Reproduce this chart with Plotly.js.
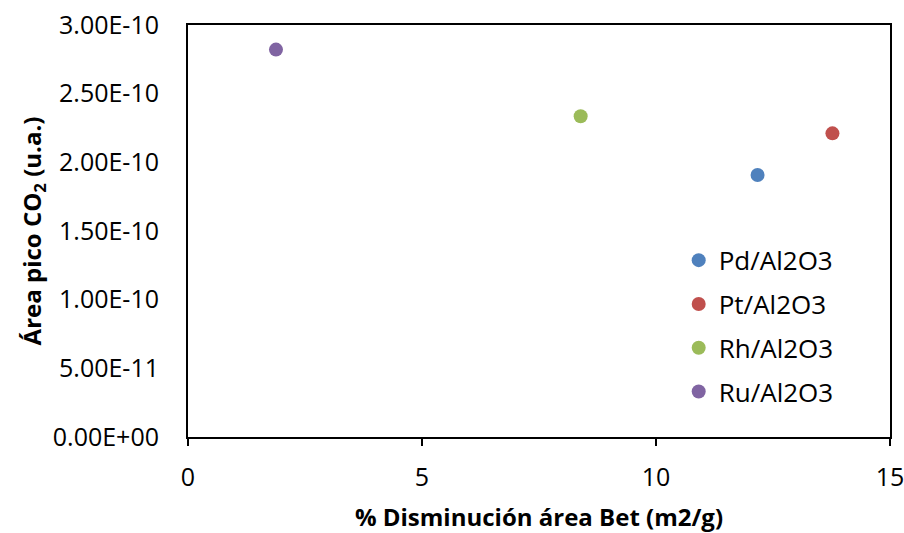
<!DOCTYPE html>
<html>
<head>
<meta charset="utf-8">
<script src="https://cdn.plot.ly/plotly-3.0.1.min.js"></script>
<style>html,body{margin:0;padding:0;background:#fff;}#chart{width:904px;height:533px;}</style>
</head>
<body>
<div id="chart"></div>
<script>
// Data
const seriesNames = ["Pd/Al2O3", "Pt/Al2O3", "Rh/Al2O3", "Ru/Al2O3"];
const xValues = [12.17, 13.77, 8.39, 1.88];          // % Disminución área Bet (m2/g)
const yValues = [1.908e-10, 2.211e-10, 2.336e-10, 2.821e-10]; // Área pico CO2 (u.a.)
const seriesColors = ["#4F81BD", "#C0504D", "#9BBB59", "#8064A2"];
const yTickVals = [0, 5e-11, 1e-10, 1.5e-10, 2e-10, 2.5e-10, 3e-10];
const yTickText = ["0.00E+00", "5.00E-11", "1.00E-10", "1.50E-10", "2.00E-10", "2.50E-10", "3.00E-10"];
const xTickVals = [0, 5, 10, 15];

const traces = seriesNames.map((name, i) => ({
  type: "scatter",
  mode: "markers",
  name: name,
  legendgroup: "g" + i,
  x: [xValues[i]],
  y: [yValues[i]],
  marker: { color: seriesColors[i], size: 14 },
  hoverinfo: "skip"
}));

const fontFam = "'Open Sans', sans-serif";

const layout = {
  width: 904,
  height: 533,
  margin: { l: 188, r: 14, t: 25, b: 96, pad: 0 },
  paper_bgcolor: "#fff",
  plot_bgcolor: "#fff",
  font: { family: fontFam, color: "#000", size: 22 },
  showlegend: true,
  legend: {
    x: 0.699, xanchor: "left",
    y: 0.486, yanchor: "top",
    bgcolor: "rgba(0,0,0,0)",
    font: { family: fontFam, size: 26, color: "#000" },
    tracegroupgap: 7,
    itemwidth: 30
  },
  xaxis: {
    range: [0, 15],
    tickvals: xTickVals,
    ticktext: xTickVals.map(String),
    ticks: "outside",
    ticklen: 7,
    tickwidth: 1.5,
    tickcolor: "#000",
    ticklabelstandoff: 10,
    ticklabeloverflow: "allow",
    showline: true,
    linecolor: "#000",
    linewidth: 2,
    mirror: true,
    showgrid: false,
    zeroline: false,
    tickfont: { family: fontFam, size: 25, color: "#000" },
    title: {
      text: "% Disminución área Bet (m2/g)",
      font: { family: fontFam, size: 24, color: "#000", weight: "bold" },
      standoff: 26
    },
    automargin: false,
    fixedrange: true
  },
  yaxis: {
    range: [0, 3e-10],
    tickvals: yTickVals,
    ticktext: yTickText,
    ticks: "",
    ticklabelstandoff: 22,
    ticklabeloverflow: "allow",
    showline: true,
    linecolor: "#000",
    linewidth: 2,
    mirror: true,
    showgrid: false,
    zeroline: false,
    tickfont: { family: fontFam, size: 25, color: "#000" },
    title: {
      text: "Área pico CO<sub>2</sub> (u.a.)",
      font: { family: fontFam, size: 24, color: "#000", weight: "bold" },
      standoff: 4
    },
    automargin: false,
    fixedrange: true
  }
};

Plotly.newPlot("chart", traces, layout, { displayModeBar: false, staticPlot: true });
</script>
</body>
</html>
